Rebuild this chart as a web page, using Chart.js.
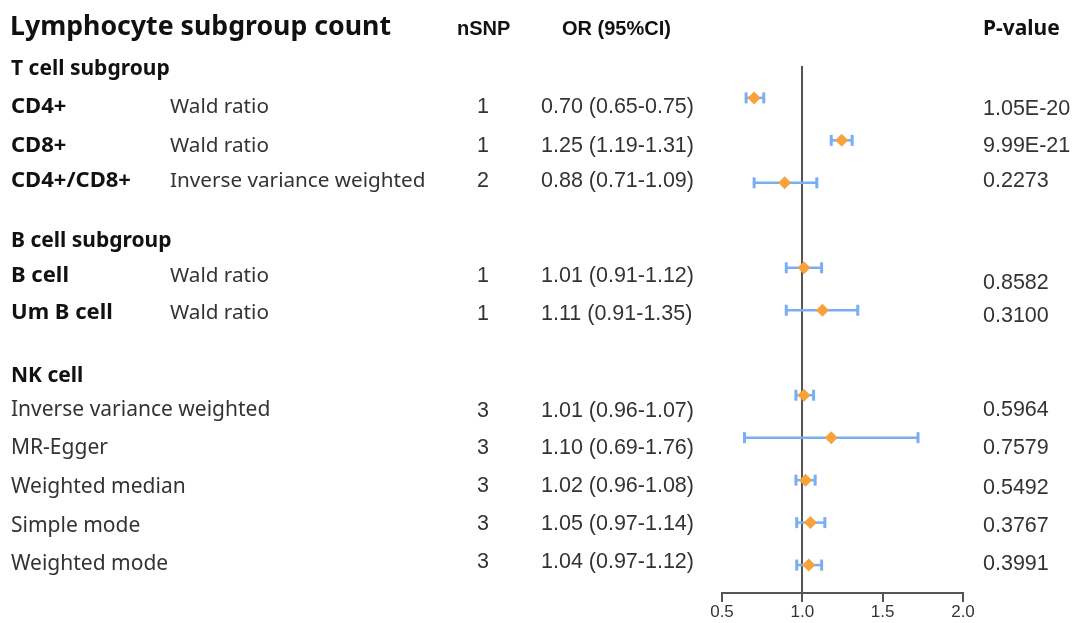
<!DOCTYPE html>
<html lang="en">
<head>
    <meta charset="UTF-8">
    <title>Lymphocyte subgroup count</title>
    <style>
        html, body { margin: 0; padding: 0; background: #ffffff; }
        #wrap { width: 1076px; height: 623px; position: relative; }
    </style>
</head>
<body>
    <div id="wrap">
        <canvas id="myChart"></canvas>
    </div>

    <script src="https://cdn.jsdelivr.net/npm/chart.js"></script>
    <script>
        // table data
        const cellNames = ['CD4+', 'CD8+', 'CD4+/CD8+', 'B cell', 'Um B cell',
            'Inverse variance weighted', 'MR-Egger', 'Weighted median', 'Simple mode', 'Weighted mode'];
        const methods = ['Wald ratio', 'Wald ratio', 'Inverse variance weighted', 'Wald ratio', 'Wald ratio', '', '', '', '', ''];
        const nSnp = ['1', '1', '2', '1', '1', '3', '3', '3', '3', '3'];
        const orText = ['0.70 (0.65-0.75)', '1.25 (1.19-1.31)', '0.88 (0.71-1.09)', '1.01 (0.91-1.12)', '1.11 (0.91-1.35)',
            '1.01 (0.96-1.07)', '1.10 (0.69-1.76)', '1.02 (0.96-1.08)', '1.05 (0.97-1.14)', '1.04 (0.97-1.12)'];
        const pValues = ['1.05E-20', '9.99E-21', '0.2273', '0.8582', '0.3100', '0.5964', '0.7579', '0.5492', '0.3767', '0.3991'];
        const groupTitles = ['T cell subgroup', 'B cell subgroup', 'NK cell'];

        // plotted values
        const orPoint = [0.70, 1.245, 0.89, 1.01, 1.125, 1.01, 1.18, 1.02, 1.05, 1.04];
        const ciLow = [0.65, 1.18, 0.70, 0.90, 0.90, 0.96, 0.64, 0.96, 0.965, 0.965];
        const ciHigh = [0.76, 1.31, 1.09, 1.12, 1.345, 1.07, 1.72, 1.08, 1.14, 1.12];
        const rowIndex = [0, 1, 2, 4, 5, 7, 8, 9, 10, 11];
        const xTicks = [0.5, 1.0, 1.5, 2.0];

        // text layout (baselines in px)
        const nameY = [113, 152, 187, 282, 319, 416, 454, 493, 532, 570];
        const orY = [113, 152, 187, 282, 320, 417, 454, 492, 530, 568];
        const pY = [115, 152, 187, 289, 322, 416, 454, 494, 532, 570];
        const groupY = [75, 247, 382];

        const BLUE = '#79aef3';
        const ORANGE = '#f7a23c';

        const errorSets = rowIndex.map((r, i) => ({
            type: 'scatter',
            data: [{ x: ciLow[i], y: r }, { x: ciHigh[i], y: r }],
            showLine: true,
            borderColor: BLUE,
            borderWidth: 2.5,
            pointStyle: 'line',
            rotation: 90,
            pointRadius: 5.5,
            pointBorderColor: BLUE,
            pointBorderWidth: 3,
            order: 1
        }));

        const pointSet = {
            type: 'scatter',
            data: rowIndex.map((r, i) => ({ x: orPoint[i], y: r })),
            pointStyle: 'rectRot',
            pointRadius: 6.5,
            pointBackgroundColor: ORANGE,
            pointBorderColor: ORANGE,
            pointBorderWidth: 0,
            order: 0
        };

        const tablePlugin = {
            id: 'table',
            afterDraw(chart) {
                const ctx = chart.ctx;
                ctx.save();
                ctx.textBaseline = 'alphabetic';
                ctx.textAlign = 'left';

                ctx.fillStyle = '#111';
                ctx.font = 'bold 26.7px "Noto Sans"';
                ctx.fillText('Lymphocyte subgroup count', 10, 35);

                ctx.font = 'bold 20px "Liberation Sans"';
                ctx.fillText('nSNP', 457, 35);
                ctx.fillText('OR (95%CI)', 562, 35);
                ctx.font = 'bold 21px "Noto Sans"';
                ctx.fillText('P-value', 983, 35);

                ctx.font = 'bold 21px "Noto Sans"';
                groupTitles.forEach((t, i) => ctx.fillText(t, 11, groupY[i]));

                cellNames.forEach((t, i) => {
                    if (methods[i]) {
                        ctx.font = 'bold 22px "Noto Sans"';
                        ctx.fillStyle = '#111';
                    } else {
                        ctx.font = '21px "Noto Sans"';
                        ctx.fillStyle = '#333';
                    }
                    ctx.fillText(t, 11, nameY[i]);
                    if (methods[i]) {
                        ctx.font = '20.7px "Noto Sans"';
                        ctx.fillStyle = '#333';
                        ctx.fillText(methods[i], 170, nameY[i]);
                    }
                });

                ctx.fillStyle = '#333';
                ctx.font = '21.5px "Liberation Sans"';
                nSnp.forEach((t, i) => {
                    ctx.textAlign = 'center';
                    ctx.fillText(t, 483, orY[i]);
                    ctx.textAlign = 'left';
                    ctx.fillText(orText[i], 541, orY[i]);
                });
                ctx.font = '21.5px "Liberation Sans"';
                pValues.forEach((t, i) => ctx.fillText(t, 983, pY[i]));
                ctx.restore();
            }
        };

        new Chart(document.getElementById('myChart'), {
            type: 'scatter',
            data: { datasets: [pointSet, ...errorSets] },
            options: {
                responsive: true,
                maintainAspectRatio: false,
                animation: false,
                layout: { padding: { left: 722, right: 113, top: 67, bottom: 0 } },
                plugins: { legend: { display: false }, tooltip: { enabled: false } },
                scales: {
                    x: {
                        type: 'linear',
                        position: 'bottom',
                        min: 0.5,
                        max: 2.0,
                        afterBuildTicks: axis => { axis.ticks = xTicks.map(v => ({ value: v })); },
                        ticks: {
                            callback: v => Number(v).toFixed(1),
                            color: '#333',
                            font: { family: 'Liberation Sans', size: 17, lineHeight: 1 },
                            padding: 2,
                            maxRotation: 0
                        },
                        grid: { drawOnChartArea: false, drawTicks: true, tickLength: 9, color: '#555', lineWidth: 2 },
                        border: { display: true, color: '#555', width: 2 }
                    },
                    y: {
                        type: 'linear',
                        position: { x: 1.0 },
                        reverse: true,
                        min: -0.727,
                        max: 11.657,
                        ticks: { display: false },
                        grid: { drawOnChartArea: false, drawTicks: false },
                        border: { display: true, color: '#555', width: 2 }
                    }
                }
            },
            plugins: [tablePlugin]
        });
    </script>
</body>
</html>
